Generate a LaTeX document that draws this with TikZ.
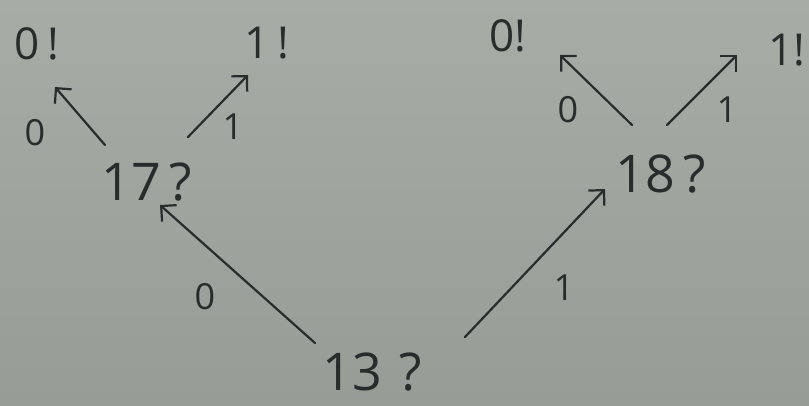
\documentclass[tikz,border=0pt]{standalone}
\usepackage{fontspec}
\setmainfont{Open Sans}
\usetikzlibrary{arrows.meta,calc}
\definecolor{paperlight}{RGB}{168,172,166}
\definecolor{paperdark}{RGB}{152,156,150}
\definecolor{ink}{RGB}{40,44,44}
\begin{document}
\begin{tikzpicture}[x=1pt,y=-1pt,
  big/.style={text=ink,font=\fontsize{52}{52}\selectfont,inner sep=0pt},
  leaf/.style={text=ink,font=\fontsize{44}{44}\selectfont,inner sep=0pt},
  lab/.style={text=ink,font=\fontsize{36}{36}\selectfont,inner sep=0pt},
  edge/.style={draw=ink,line width=2.2pt,line cap=round,
    -{Straight Barb[length=11pt,width=22pt,line width=2.2pt]}}]
\useasboundingbox (0,0) rectangle (809,405);
\shade[top color=paperlight,bottom color=paperdark] (0,0) rectangle (809,405);
% nodes
\node[big] (n13) at (372,372) {13\,\,?};
\node[big] (n17) at (147,182) {17\,?};
\node[big] (n18) at (661,174) {18\,?};
\node[leaf] (a0) at (37,44) {0\,!};
\node[leaf] (a1) at (267,43) {1\,!};
\node[leaf] (b0) at (508,36) {0!};
\node[leaf] (b1) at (787,50) {1!};
% edge labels
\node[lab] (l130) at (205,297) {0};
\node[lab] (l131) at (564,288) {1};
\node[lab] (l170) at (35,133) {0};
\node[lab] (l171) at (233,127) {1};
\node[lab] (l180) at (568,110) {0};
\node[lab] (l181) at (727,110) {1};
% connectors
\draw[edge] ($(n13)+(-57,-29)$) -- ($(n17)+(13,23)$);
\draw[edge] ($(n13)+(93,-35)$) -- ($(n18)+(-56,15)$);
\draw[edge] ($(n17)+(-42,-37)$) -- ($(a0)+(18,43)$);
\draw[edge] ($(n17)+(41,-45)$) -- ($(a1)+(-19,32)$);
\draw[edge] ($(n18)+(-29,-49)$) -- ($(b0)+(52,19)$);
\draw[edge] ($(n18)+(6,-49)$) -- ($(b1)+(-50,5)$);
\end{tikzpicture}
\end{document}
